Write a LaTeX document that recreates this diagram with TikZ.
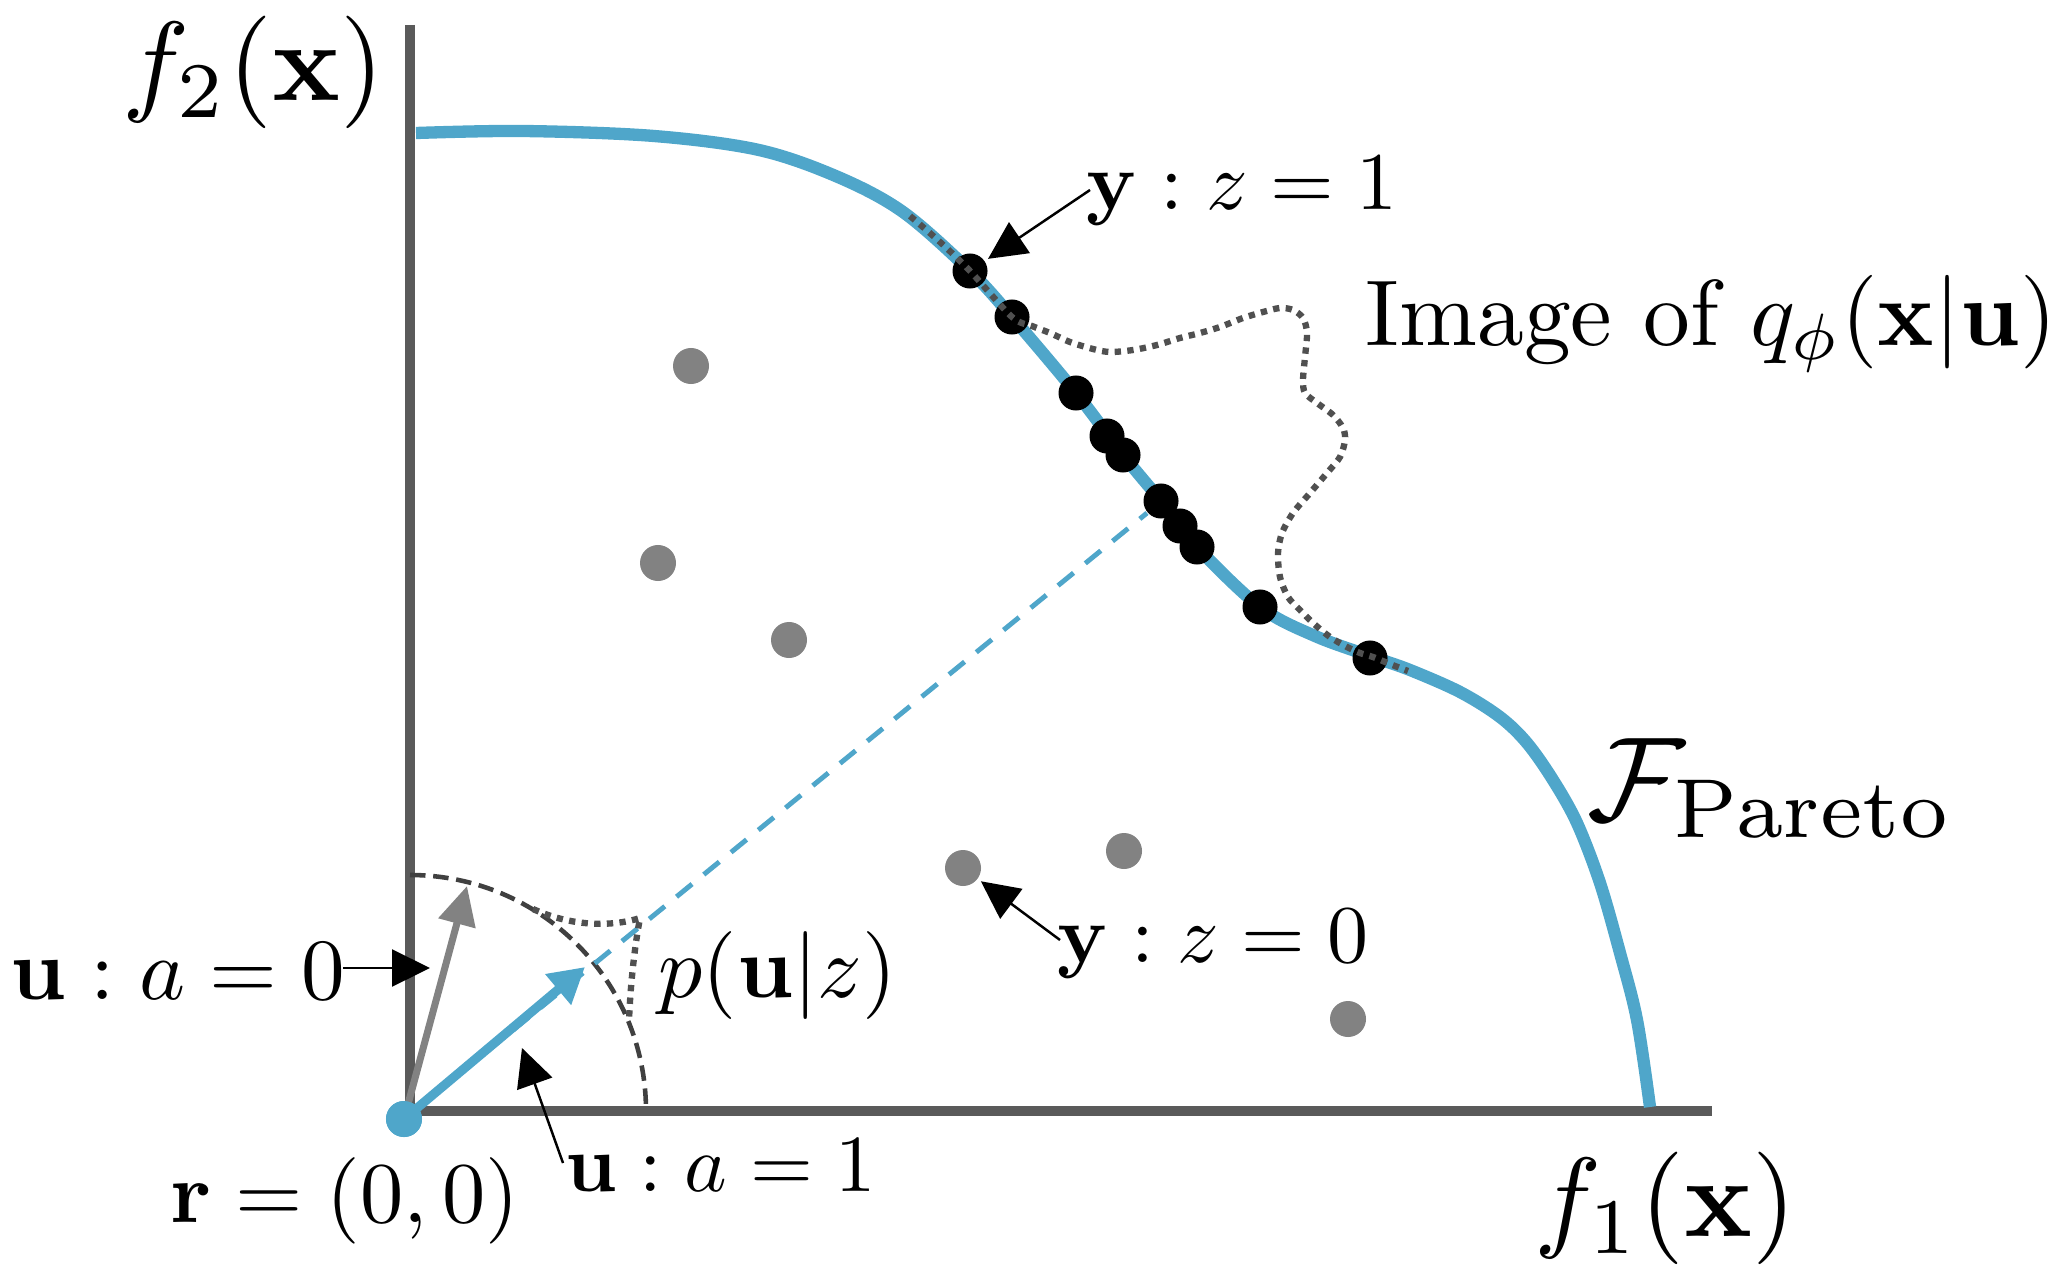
\RequirePackage{fix-cm}
\documentclass[tikz,border=0pt]{standalone}
\usetikzlibrary{arrows.meta}
\definecolor{pblue}{HTML}{4FA6CA}
\definecolor{axgray}{HTML}{5A5A5A}
\definecolor{dotgray}{HTML}{828282}
\definecolor{arcgray}{HTML}{404040}
\definecolor{dotline}{HTML}{505050}
\begin{document}
\begin{tikzpicture}[x=0.01cm,y=-0.01cm,
  axisline/.style={draw=axgray,line width=2.85pt,line join=miter},
  front/.style={draw=pblue,line width=3.5pt},
  bdot/.style={circle,fill=black,inner sep=0pt,minimum size=0.35cm},
  gdot/.style={circle,fill=dotgray,inner sep=0pt,minimum size=0.36cm},
  odot/.style={circle,fill=pblue,inner sep=0pt,minimum size=0.36cm},
  ann/.style={draw=black,line width=0.7pt,shorten >=1pt,-{Triangle[length=10.8pt,width=10.5pt]}},
  garrow/.style={draw=dotgray,line width=2pt,-{Triangle[length=11pt,width=10.5pt]}},
  barrow/.style={draw=pblue,line width=2.6pt,-{Triangle[length=10pt,width=10.8pt]}},
  bdash/.style={draw=pblue,line width=1.4pt,dash pattern=on 5.7pt off 4.3pt},
  arcdash/.style={draw=arcgray,line width=1.3pt,dash pattern=on 4.4pt off 2.2pt},
  dotted line/.style={draw=dotline,line width=1.8pt,dash pattern=on 1.8pt off 1.8pt},
  lbl/.style={inner sep=0pt}
]
\useasboundingbox (0,0) rectangle (2052,1276);

% axes
\draw[axisline] (410,25) -- (410,1111) -- (1712,1111);

% dashed arc
\draw[arcdash] (410,875) arc[start angle=-90, end angle=0, x radius=236, y radius=236];

% origin
\node[odot] (o) at (404,1119) {};
\coordinate (dend) at (1147,513);
\coordinate (btip) at (585,967);
\coordinate (gtip) at (467,886);

% blue dashed line
\draw[bdash] (o.center) -- (dend);

% Pareto front
\draw[front] plot[smooth, tension=0.55] coordinates {
 (416,133) (523,131) (654,136) (759,150) (838,177) (903,212) (970,271)
 (1012,317) (1076,393) (1123,455) (1161,501) (1197,547) (1260,607)
 (1315,636) (1373,657) (1410,670) (1460,692) (1500,717) (1527,743)
 (1553,780) (1577,823) (1600,883) (1620,953) (1637,1020) (1650,1107)};

% black dots
\node[bdot] (d1) at (970,271) {};
\node[bdot] (d2) at (1012,317) {};
\node[bdot] (d3) at (1076,393) {};
\node[bdot] (d4) at (1107,436) {};
\node[bdot] (d5) at (1123,455) {};
\node[bdot] (d6) at (1161,501) {};
\node[bdot] (d7) at (1180,526) {};
\node[bdot] (d8) at (1197,547) {};
\node[bdot] (d9) at (1260,607) {};
\node[bdot] (d10) at (1370,658) {};

% gray dots
\node[gdot] (g1) at (691,366) {};
\node[gdot] (g2) at (658,563) {};
\node[gdot] (g3) at (789,640) {};
\node[gdot] (g4) at (963,868) {};
\node[gdot] (g5) at (1124,851) {};
\node[gdot] (g6) at (1348,1019) {};

% image of q dotted
\draw[dotted line] plot[smooth, tension=0.5] coordinates {
 (910,216) (940,242) (970,271) (1012,317) (1032,326) (1050,333) (1070,342)
 (1093,349) (1110,352) (1133,350) (1157,345) (1180,338) (1200,333)
 (1220,327) (1243,318) (1263,312) (1280,308) (1293,310) (1303,318)
 (1307,333) (1305,357) (1303,380) (1305,393) (1317,403) (1333,415)
 (1343,428) (1345,440) (1340,457) (1327,473) (1310,493) (1293,513)
 (1282,533) (1278,553) (1280,577) (1288,597) (1300,610) (1313,623)
 (1330,637) (1347,647) (1360,653) (1373,657) (1390,664) (1408,671)};

% p(u|z) dotted
\draw[dotted line] (533,909) .. controls (575,928) and (615,926) .. (640,918)
  .. controls (634,950) and (630,990) .. (629,1022);

% u arrows
\draw[garrow] (o.center) -- (gtip);
\draw[barrow] (o.center) -- (btip);
\node[odot] at (o) {};

% labels
\node[lbl,anchor=west] (f2) at (122,72) {\scalebox{3.2}{$f_2(\mathbf{x})$}};
\node[lbl,anchor=west] (f1) at (1534,1208) {\scalebox{3.2}{$f_1(\mathbf{x})$}};
\node[lbl,anchor=base west] (fp) at (1587,820) {\scalebox{3.4}{$\mathcal{F}_{\mathrm{Pareto}}$}};
\node[lbl,anchor=west] (img) at (1365,324) {\scalebox{2.66}{Image of $q_\phi(\mathbf{x}|\mathbf{u})$}};
\node[lbl,anchor=base west] (yz1) at (1086,209) {\scalebox{2.33}{$\mathbf{y}:z=1$}};
\node[lbl,anchor=base west] (yz0) at (1057,962) {\scalebox{2.33}{$\mathbf{y}:z=0$}};
\node[lbl,anchor=base west] (ua0) at (10,999) {\scalebox{2.48}{$\mathbf{u}:a=0$}};
\node[lbl,anchor=base west] (ua1) at (565,1191) {\scalebox{2.3}{$\mathbf{u}:a=1$}};
\node[lbl,anchor=west] (puz) at (658,976) {\scalebox{2.5}{$p(\mathbf{u}|z)$}};
\node[lbl,anchor=west] (r0) at (170,1201) {\scalebox{2.46}{$\mathbf{r}=(0,0)$}};

% annotation arrows
\coordinate (t1) at (1090,190);
\coordinate (t0) at (1060,940);
\coordinate (ta0) at (343,968);
\coordinate (ha0) at (430,968);
\coordinate (ta1) at (563,1163);
\coordinate (ha1) at (522,1048);
\draw[ann] (t1) -- (d1);
\draw[ann] (t0) -- (g4);
\draw[ann,shorten >=0pt] (ta0) -- (ha0);
\draw[ann,shorten >=0pt] (ta1) -- (ha1);
\end{tikzpicture}
\end{document}
